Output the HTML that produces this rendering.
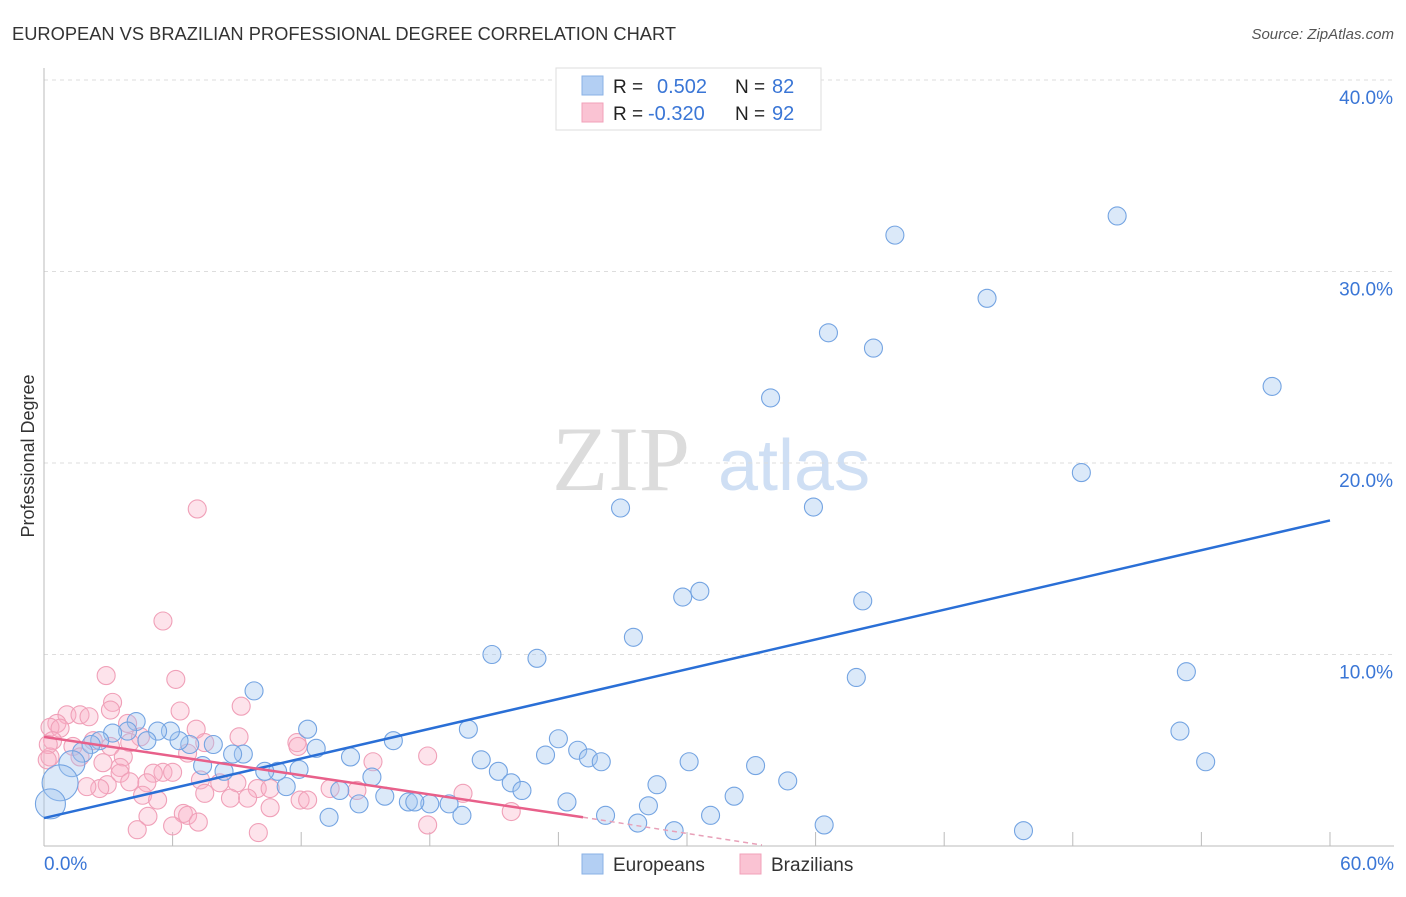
<!DOCTYPE html>
<html><head><meta charset="utf-8"><style>
body{margin:0;background:#fff;font-family:"Liberation Sans",sans-serif}
svg text{font-family:"Liberation Sans",sans-serif}
</style></head><body>
<svg id="c" width="1406" height="892">
<text x="12" y="40" font-size="18.3" fill="#333">EUROPEAN VS BRAZILIAN PROFESSIONAL DEGREE CORRELATION CHART</text>
<text x="1394" y="39" font-size="15" fill="#555" text-anchor="end" font-style="italic">Source: ZipAtlas.com</text>
<text x="34" y="456" font-size="18" fill="#333" text-anchor="middle" transform="rotate(-90 34 456)">Professional Degree</text>
<g><text x="552" y="490" font-size="92" fill="#dcdcdc" style="font-family:'Liberation Serif',serif">ZIP</text><text x="718" y="490" font-size="72" fill="#cfdff4">atlas</text></g>
<g id="grid"></g><g id="marks"></g><g id="lines"></g>
<g>
<rect x="556" y="68" width="265" height="62" fill="#fff" stroke="#ddd"/>
<rect x="582" y="76" width="21" height="19" fill="#b3cff3" stroke="#8ab2e6"/>
<rect x="582" y="103" width="21" height="19" fill="#fac3d3" stroke="#f1a0b9"/>
<text x="613" y="93" font-size="19" fill="#222">R = </text><text x="657" y="93" font-size="20" fill="#3a76d6">0.502</text>
<text x="735" y="93" font-size="19" fill="#222">N = </text><text x="772" y="93" font-size="20" fill="#3a76d6">82</text>
<text x="613" y="120" font-size="19" fill="#222">R = </text><text x="648" y="120" font-size="20" fill="#3a76d6">-0.320</text>
<text x="735" y="120" font-size="19" fill="#222">N = </text><text x="772" y="120" font-size="20" fill="#3a76d6">92</text>
</g>
<g>
<rect x="582" y="854" width="21" height="20" fill="#b3cff3" stroke="#8ab2e6"/>
<text x="613" y="871" font-size="19" fill="#333">Europeans</text>
<rect x="740" y="854" width="21" height="20" fill="#fac3d3" stroke="#f1a0b9"/>
<text x="771" y="871" font-size="19" fill="#333">Brazilians</text>
</g>
</svg>
<script>
const yTicks=[10,20,30,40];
const yTickLabels=["10.0%","20.0%","30.0%","40.0%"];
const xTicks=[0,6,12,18,24,30,36,42,48,54,60];
const euroX=[50.07,39.7,44.0,36.6,38.7,57.3,33.9,48.4,26.9,35.9,30.6,29.8,38.2,27.5,20.9,23.0,53.3,37.9,9.8,53.0,54.2,45.7,19.8,24.0,16.3,12.3,23.4,24.9,25.4,26.0,20.4,14.3,12.7,30.1,33.2,21.2,21.8,22.3,28.6,34.7,15.3,32.2,24.4,28.2,26.2,31.1,27.7,29.4,36.4,19.5,18.9,18.0,17.0,17.3,15.9,14.7,13.3,13.8,11.9,11.3,10.9,10.3,9.3,8.8,7.9,7.4,8.4,6.8,6.3,5.9,5.3,4.8,4.3,3.9,3.2,2.6,2.2,1.8,1.3,0.75,0.3];
const euroY=[32.9,31.9,28.6,26.8,26.0,24.0,23.4,19.5,17.65,17.7,13.3,13.0,12.8,10.9,10.0,9.8,9.1,8.8,8.1,6.0,4.4,0.8,6.1,5.6,5.5,6.1,4.75,5.0,4.6,4.4,4.5,4.65,5.1,4.4,4.2,3.9,3.3,2.9,3.2,3.4,3.6,2.6,2.3,2.1,1.6,1.6,1.2,0.8,1.1,1.6,2.2,2.2,2.3,2.3,2.6,2.2,1.5,2.9,4.0,3.1,3.9,3.9,4.8,4.8,5.3,4.2,3.9,5.3,5.5,6.0,6.0,5.5,6.5,6.0,5.9,5.5,5.3,4.9,4.3,3.3,2.2];
const euroR=[9,9,9,9,9,9,9,9,9,9,9,9,9,9,9,9,9,9,9,9,9,9,9,9,9,9,9,9,9,9,9,9,9,9,9,9,9,9,9,9,9,9,9,9,9,9,9,9,9,9,9,9,9,9,9,9,9,9,9,9,9,9,9,9,9,9,9,9,9,9,9,9,9,9,9,9,9,10,13,18,15];
const brazX=[5.55,2.9,6.15,3.2,3.1,6.35,9.2,1.07,1.68,2.1,0.6,0.28,0.75,7.1,3.9,9.1,11.8,11.85,7.5,4.5,0.4,1.35,2.3,3.1,4.0,0.28,15.35,17.9,6.7,1.68,3.7,2.75,3.55,3.55,5.55,6.0,5.1,9.0,8.2,7.3,4.0,4.8,2.95,2.6,2.0,9.95,10.55,13.35,14.6,4.6,7.5,8.7,9.5,11.95,12.3,5.3,19.55,10.55,4.85,6.5,6.7,7.2,6.0,4.35,10.0,17.9,7.15,21.8,0.2,0.15];
const brazY=[11.75,8.9,8.7,7.5,7.1,7.05,7.3,6.85,6.85,6.75,6.4,6.2,6.15,6.1,6.4,5.7,5.4,5.2,5.4,5.7,5.5,5.2,5.5,5.2,5.4,4.65,4.4,4.7,4.85,4.65,4.65,4.35,4.1,3.8,3.85,3.85,3.8,3.3,3.3,3.45,3.35,3.3,3.2,3.0,3.1,3.0,3.0,3.0,2.9,2.65,2.75,2.5,2.5,2.4,2.4,2.4,2.75,2.0,1.55,1.7,1.6,1.25,1.05,0.85,0.7,1.1,17.6,1.8,5.3,4.5];
const euroTrend=[[0,1.46],[60,17.0]];
const brazTrend=[[0,5.7],[25.15,1.5]];
const brazTrendExt=[[25.15,1.5],[33.5,0.05]];
const sx=v=>44+v*21.433, sy=v=>846-v*19.15;
const NS="http://www.w3.org/2000/svg";
function mk(tag,attrs,parent){const e=document.createElementNS(NS,tag);for(const k in attrs)e.setAttribute(k,attrs[k]);parent.appendChild(e);return e;}
const grid=document.getElementById('grid');
yTicks.forEach((t,i)=>{
 const l=mk('line',{x1:44,x2:1394,y1:sy(t),y2:sy(t),stroke:'#ddd','stroke-dasharray':'4 4'},grid);
 
 
 const tx=mk('text',{x:1393,y:sy(t)+24,'font-size':19,fill:'#3a76d6','text-anchor':'end'},grid);
 tx.textContent=yTickLabels[i];
 
 
});
const ax=mk('line',{x1:44,x2:44,y1:68,y2:846,stroke:'#bbb'},grid);


const bx=mk('line',{x1:44,x2:1394,y1:846,y2:846,stroke:'#bbb'},grid);


xTicks.forEach(t=>{
 const l=mk('line',{x1:sx(t),x2:sx(t),y1:832,y2:846,stroke:'#bbb'},grid);
 
 
});
const x0=mk('text',{x:44,y:870,'font-size':19,fill:'#3a76d6'},grid);x0.textContent='0.0%';


const x1=mk('text',{x:1394,y:870,'font-size':19,fill:'#3a76d6','text-anchor':'end'},grid);x1.textContent='60.0%';


const marks=document.getElementById('marks');
brazX.forEach((v,i)=>{
 const c=mk('circle',{cx:sx(v),cy:sy(brazY[i]),r:9,fill:'rgba(248,176,198,0.35)',stroke:'#f0a0b8','stroke-width':1.1},marks);
 
 
});
euroX.forEach((v,i)=>{
 const c=mk('circle',{cx:sx(v),cy:sy(euroY[i]),r:euroR[i],fill:'rgba(160,196,240,0.38)',stroke:'#74a4e2','stroke-width':1.1},marks);
 
 
});
const lines=document.getElementById('lines');
const el=mk('line',{x1:sx(euroTrend[0][0]),y1:sy(euroTrend[0][1]),x2:sx(euroTrend[1][0]),y2:sy(euroTrend[1][1]),stroke:'#2a6fd6','stroke-width':2.5},lines);


const bl=mk('line',{x1:sx(brazTrend[0][0]),y1:sy(brazTrend[0][1]),x2:sx(brazTrend[1][0]),y2:sy(brazTrend[1][1]),stroke:'#e8608a','stroke-width':2.5},lines);


const be=mk('line',{x1:sx(brazTrendExt[0][0]),y1:sy(brazTrendExt[0][1]),x2:sx(brazTrendExt[1][0]),y2:sy(brazTrendExt[1][1]),stroke:'#e8a0b8','stroke-width':1.5,'stroke-dasharray':'5 4'},lines);


</script>
</body></html>
